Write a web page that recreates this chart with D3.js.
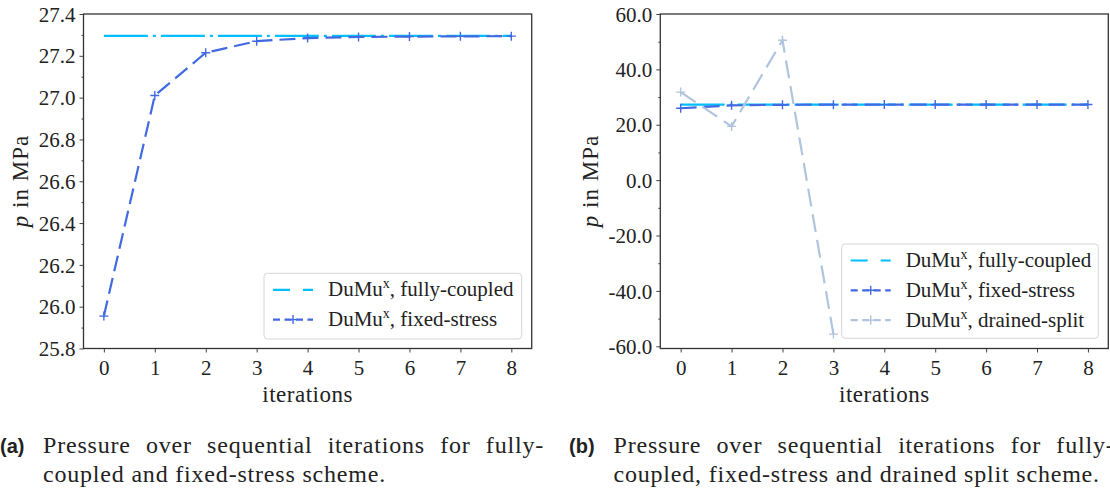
<!DOCTYPE html>
<html>
<head>
<meta charset="utf-8">
<script src="https://cdn.jsdelivr.net/npm/d3@7"></script>
<style>
  body { margin: 0; background: #fff; overflow: hidden; }
  svg { display: block; }
</style>
</head>
<body>
<svg id="chart" width="1110" height="491"></svg>
<script>
// data
const iterations = [0, 1, 2, 3, 4, 5, 6, 7, 8];
const xTicks = [0, 1, 2, 3, 4, 5, 6, 7, 8];
const fullyCoupled = [27.295, 27.295, 27.295, 27.295, 27.295, 27.295, 27.295, 27.295, 27.295];
const fixedStress = [25.955, 27.01, 27.215, 27.27, 27.285, 27.29, 27.292, 27.293, 27.294];
const drainedIters = [0, 1, 2, 3];
const drainedSplit = [31.8, 19.4, 50.5, -55.6];
const yTicksA = [25.8, 26.0, 26.2, 26.4, 26.6, 26.8, 27.0, 27.2, 27.4];
const yMinorA = [25.9, 26.1, 26.3, 26.5, 26.7, 26.9, 27.1, 27.3];
const yTicksB = [-60, -40, -20, 0, 20, 40, 60];
const yMinorB = [-50, -30, -10, 10, 30, 50];
const seriesNames = ["fully-coupled", "fixed-stress", "drained-split"];
const captionA = ["Pressure over sequential iterations for fully-", "coupled and fixed-stress scheme."];
const captionB = ["Pressure over sequential iterations for fully-", "coupled, fixed-stress and drained split scheme."];

const colors = {
  "fully-coupled": "#00bfff",
  "fixed-stress": "#4169e1",
  "drained-split": "#b0c4de",
};
const SERIF = "'Liberation Serif', 'DejaVu Serif', serif";

var svg = d3.select("#chart");

function drawPanel(opts) {
  var g = svg.append("g");
  var x = d3.scaleLinear().domain([-0.4, 8.4]).range([opts.left, opts.right]);
  var y = d3.scaleLinear().domain(opts.yDomain).range([348.5, 14]);

  var clipId = "clip" + opts.id;
  g.append("clipPath")
    .attr("id", clipId)
    .append("rect")
    .attr("x", opts.left)
    .attr("y", 14)
    .attr("width", opts.right - opts.left)
    .attr("height", 348.5 - 14);

  // axes
  var xAxis = d3.axisBottom(x).tickValues(xTicks).tickFormat(d3.format("d")).tickSize(4).tickSizeOuter(0);
  var gx = g.append("g").attr("transform", "translate(0,348.5)").call(xAxis);
  gx.select(".domain").remove();
  gx.selectAll("text").attr("dy", null).attr("y", 26).style("font-size", "21px");

  var yAxis = d3.axisLeft(y).tickValues(opts.yTicks).tickFormat(opts.fmt).tickSize(4).tickSizeOuter(0);
  var gy = g.append("g").attr("transform", "translate(" + opts.left + ",0)").call(yAxis);
  gy.select(".domain").remove();
  gy.selectAll("text").attr("x", -8).attr("dy", "0.34em").style("font-size", "21px");

  var yMinor = d3.axisLeft(y).tickValues(opts.yMinor).tickFormat("").tickSize(2).tickSizeOuter(0);
  var gym = g.append("g").attr("transform", "translate(" + opts.left + ",0)").call(yMinor);
  gym.select(".domain").remove();
  g.selectAll(".tick line").attr("stroke", "#444").attr("stroke-width", 1);

  // frame
  g.append("rect")
    .attr("x", opts.left)
    .attr("y", 14)
    .attr("width", opts.right - opts.left)
    .attr("height", 348.5 - 14)
    .attr("fill", "none")
    .attr("stroke", "#333")
    .attr("stroke-width", 1.3);

  // labels
  g.append("text")
    .attr("x", (opts.left + opts.right) / 2)
    .attr("y", 402)
    .attr("text-anchor", "middle")
    .style("font-size", "23px")
    .style("letter-spacing", "0.5px")
    .text("iterations");

  var yl = g.append("text")
    .attr("transform", "translate(" + opts.ylabelX + ",181) rotate(-90)")
    .attr("text-anchor", "middle")
    .style("font-size", "23px")
    .style("letter-spacing", "1px");
  yl.append("tspan").style("font-style", "italic").text("p");
  yl.append("tspan").text(" in MPa");

  var plot = g.append("g").attr("clip-path", "url(#" + clipId + ")");
  var line = d3.line().x((d) => x(d[0])).y((d) => y(d[1]));

  opts.series.forEach(function (s) {
    var pts = s.xs.map((v, i) => [v, s.ys[i]]);
    plot.append("path")
      .attr("d", line(pts))
      .attr("fill", "none")
      .attr("stroke", colors[s.name])
      .attr("stroke-width", 2.2)
      .attr("stroke-dasharray", s.dash);
    if (s.marker) {
      plot.selectAll(null)
        .data(pts)
        .enter()
        .append("path")
        .attr("d", (d) => "M" + (x(d[0]) - 4.5) + "," + y(d[1]) + "h9M" + x(d[0]) + "," + (y(d[1]) - 4.5) + "v9")
        .attr("stroke", colors[s.name])
        .attr("stroke-width", 1.4);
    }
  });

  // legend
  var lg = g.append("g");
  var L = opts.legend;
  lg.append("rect")
    .attr("x", L.x)
    .attr("y", L.y)
    .attr("width", L.w)
    .attr("height", L.h)
    .attr("rx", 3.5)
    .attr("fill", "rgba(255,255,255,0.8)")
    .attr("stroke", "#d6d6d6")
    .attr("stroke-width", 1);
  opts.series.forEach(function (s, i) {
    var cy = L.y + 16.5 + i * 29.8;
    var x0 = L.x + 9, x1 = L.x + 49;
    lg.append("line")
      .attr("x1", x0).attr("x2", x1).attr("y1", cy).attr("y2", cy)
      .attr("stroke", colors[s.name])
      .attr("stroke-width", 2.2)
      .attr("stroke-dasharray", s.legendDash);
    if (s.marker) {
      var mx = (x0 + x1) / 2;
      lg.append("path")
        .attr("d", "M" + (mx - 4.5) + "," + cy + "h9M" + mx + "," + (cy - 4.5) + "v9")
        .attr("stroke", colors[s.name])
        .attr("stroke-width", 1.4);
    }
    var t = lg.append("text")
      .attr("x", L.x + 64)
      .attr("y", cy + 6.5)
      .style("font-size", "21px");
    t.append("tspan").text("DuMu");
    t.append("tspan").attr("dy", -8).style("font-size", "14px").text("x");
    t.append("tspan").attr("dy", 8).text(", " + s.name);
  });
}

var fmtA = d3.format(".1f");
var fmtB = (d) => d3.format(".1f")(d).replace("\u2212", "-");

drawPanel({
  id: "A",
  left: 83.5,
  right: 531.7,
  yDomain: [25.8, 27.4],
  yTicks: yTicksA,
  yMinor: yMinorA,
  fmt: fmtA,
  ylabelX: 28,
  legend: { x: 264, y: 273.3, w: 257.7, h: 65.7 },
  series: [
    { name: seriesNames[0], xs: iterations, ys: fullyCoupled, dash: "44,5,3,5", legendDash: "17,13", marker: false },
    { name: seriesNames[1], xs: iterations, ys: fixedStress, dash: "16,7", legendDash: "7,4.5", marker: true },
  ],
});

drawPanel({
  id: "B",
  left: 660.3,
  right: 1108.3,
  yDomain: [-60.8, 60],
  yTicks: yTicksB,
  yMinor: yMinorB,
  fmt: fmtB,
  ylabelX: 598,
  legend: { x: 841.7, y: 244, w: 256.6, h: 94.3 },
  series: [
    { name: seriesNames[0], xs: iterations, ys: fullyCoupled, dash: "44,5,3,5", legendDash: "17,13", marker: false },
    { name: seriesNames[1], xs: iterations, ys: fixedStress, dash: "16,7", legendDash: "7,4.5", marker: true },
    { name: seriesNames[2], xs: drainedIters, ys: drainedSplit, dash: "18,8", legendDash: "7,4.5", marker: true },
  ],
});

// all chart text in a serif face
svg.selectAll("text").style("font-family", SERIF).attr("font-family", null).style("fill", "#222");

// captions: letter spacing set so that line 2 of (a) is as wide as in the figure,
// line 1 justified over the column width
function caption(tag, lines, x0, xText, width, ls) {
  svg.append("text")
    .attr("x", x0)
    .attr("y", 453)
    .style("font-family", "'Liberation Sans', Arial, sans-serif")
    .style("font-weight", "bold")
    .style("font-size", "20px")
    .style("fill", "#222")
    .text(tag);
  lines.forEach(function (l, i) {
    var t = svg.append("text")
      .attr("x", xText)
      .attr("y", 453 + i * 29)
      .style("font-family", SERIF)
      .style("font-size", "24px")
      .style("letter-spacing", ls + "px")
      .style("fill", "#222")
      .text(l);
    if (i === 0) {
      var natural = t.node().getComputedTextLength();
      var gaps = l.split(" ").length - 1;
      t.attr("word-spacing", Math.max(0, (width - natural) / gaps));
    }
  });
}
var probe = svg.append("text")
  .style("font-family", SERIF)
  .style("font-size", "24px")
  .text(captionA[1]);
var ls = Math.max(0, (343 - probe.node().getComputedTextLength()) / captionA[1].length);
probe.remove();
caption("(a)", captionA, 0, 43, 501, ls);
caption("(b)", captionB, 569, 613.5, 501, ls);
</script>
</body>
</html>
